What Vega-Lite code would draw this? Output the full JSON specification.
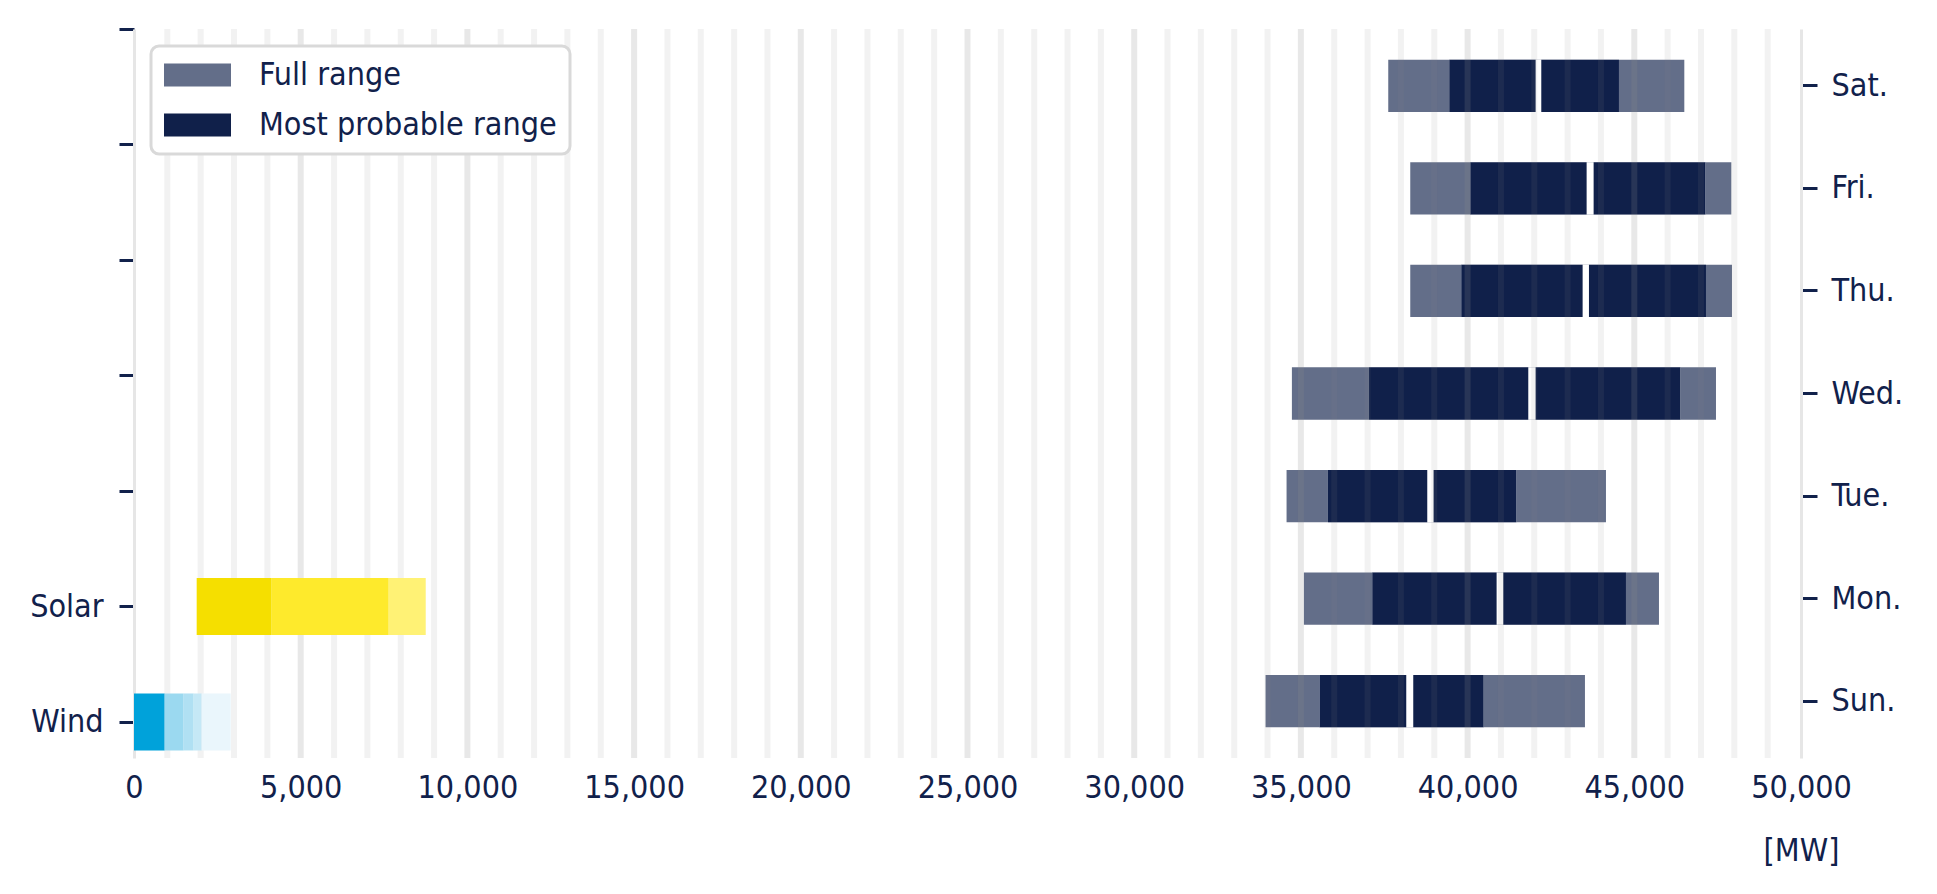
{
  "$schema": "https://vega.github.io/schema/vega-lite/v6.json",
  "description": "Weekly load ranges with wind and solar infeed ranges",
  "width": 1667,
  "height": 729,
  "autosize": {"type": "none"},
  "padding": {"left": 134, "top": 29, "right": 136, "bottom": 136},
  "background": "#ffffff",
  "config": {
    "view": {"stroke": null},
    "font": "DejaVu Sans Condensed, Liberation Sans Narrow, DejaVu Sans",
    "axis": {
      "labelColor": "#11214B",
      "labelFontSize": 32,
      "titleColor": "#11214B",
      "titleFontSize": 32,
      "titleFontWeight": "normal",
      "tickColor": "#11214B",
      "tickWidth": 3,
      "domainColor": "#E6E6E6",
      "domainWidth": 3,
      "grid": false
    }
  },
  "datasets": {
    "days": [
      {"day": "Sun.", "range": "Full range", "lo": 33940, "hi": 43520},
      {"day": "Mon.", "range": "Full range", "lo": 35090, "hi": 45740},
      {"day": "Tue.", "range": "Full range", "lo": 34570, "hi": 44150},
      {"day": "Wed.", "range": "Full range", "lo": 34730, "hi": 47450},
      {"day": "Thu.", "range": "Full range", "lo": 38280, "hi": 47930},
      {"day": "Fri.", "range": "Full range", "lo": 38280, "hi": 47910},
      {"day": "Sat.", "range": "Full range", "lo": 37620, "hi": 46500},
      {"day": "Sun.", "range": "Most probable range", "lo": 35560, "hi": 38160},
      {"day": "Sun.", "range": "Most probable range", "lo": 38370, "hi": 40480},
      {"day": "Mon.", "range": "Most probable range", "lo": 37140, "hi": 40870},
      {"day": "Mon.", "range": "Most probable range", "lo": 41070, "hi": 44750},
      {"day": "Tue.", "range": "Most probable range", "lo": 35810, "hi": 38790},
      {"day": "Tue.", "range": "Most probable range", "lo": 38980, "hi": 41460},
      {"day": "Wed.", "range": "Most probable range", "lo": 37040, "hi": 41820},
      {"day": "Wed.", "range": "Most probable range", "lo": 42040, "hi": 46380},
      {"day": "Thu.", "range": "Most probable range", "lo": 39810, "hi": 43450},
      {"day": "Thu.", "range": "Most probable range", "lo": 43640, "hi": 47150},
      {"day": "Fri.", "range": "Most probable range", "lo": 40080, "hi": 43570},
      {"day": "Fri.", "range": "Most probable range", "lo": 43780, "hi": 47130},
      {"day": "Sat.", "range": "Most probable range", "lo": 39450, "hi": 42040},
      {"day": "Sat.", "range": "Most probable range", "lo": 42210, "hi": 44540}
    ],
    "renewables": [
      {"source": "Wind", "slot": 0, "tier": "Wind 1", "lo": 0, "hi": 920},
      {"source": "Wind", "slot": 0, "tier": "Wind 2", "lo": 920, "hi": 1490},
      {"source": "Wind", "slot": 0, "tier": "Wind 3", "lo": 1490, "hi": 1790},
      {"source": "Wind", "slot": 0, "tier": "Wind 4", "lo": 1790, "hi": 2030},
      {"source": "Wind", "slot": 0, "tier": "Wind 5", "lo": 2030, "hi": 2900},
      {"source": "Solar", "slot": 1, "tier": "Solar 1", "lo": 1880, "hi": 4130},
      {"source": "Solar", "slot": 1, "tier": "Solar 2", "lo": 4130, "hi": 7640},
      {"source": "Solar", "slot": 1, "tier": "Solar 3", "lo": 7640, "hi": 8750}
    ],
    "grid": [
      {"mw": 1000}, {"mw": 2000}, {"mw": 3000}, {"mw": 4000}, {"mw": 5000},
      {"mw": 6000}, {"mw": 7000}, {"mw": 8000}, {"mw": 9000}, {"mw": 10000},
      {"mw": 11000}, {"mw": 12000}, {"mw": 13000}, {"mw": 14000}, {"mw": 15000},
      {"mw": 16000}, {"mw": 17000}, {"mw": 18000}, {"mw": 19000}, {"mw": 20000},
      {"mw": 21000}, {"mw": 22000}, {"mw": 23000}, {"mw": 24000}, {"mw": 25000},
      {"mw": 26000}, {"mw": 27000}, {"mw": 28000}, {"mw": 29000}, {"mw": 30000},
      {"mw": 31000}, {"mw": 32000}, {"mw": 33000}, {"mw": 34000}, {"mw": 35000},
      {"mw": 36000}, {"mw": 37000}, {"mw": 38000}, {"mw": 39000}, {"mw": 40000},
      {"mw": 41000}, {"mw": 42000}, {"mw": 43000}, {"mw": 44000}, {"mw": 45000},
      {"mw": 46000}, {"mw": 47000}, {"mw": 48000}, {"mw": 49000}
    ]
  },
  "layer": [
    {
      "data": {"name": "days"},
      "encoding": {
        "y": {
          "field": "day",
          "type": "nominal",
          "sort": ["Sat.", "Fri.", "Thu.", "Wed.", "Tue.", "Mon.", "Sun."],
          "scale": {"paddingInner": 0.49, "paddingOuter": 0.3},
          "axis": {
            "orient": "right",
            "title": null,
            "tickSize": 16,
            "labelPadding": 14
          }
        },
        "x": {
          "field": "lo",
          "type": "quantitative",
          "title": "[MW]",
          "scale": {"domain": [0, 50000], "nice": false, "zero": false},
          "axis": {
            "values": [0, 5000, 10000, 15000, 20000, 25000, 30000, 35000, 40000, 45000, 50000],
            "format": ",d",
            "ticks": false,
            "domain": false,
            "grid": false,
            "labelFlush": false,
            "labelPadding": 14,
            "titleX": 1667,
            "titleY": 102,
            "titleAlign": "center",
            "titleBaseline": "alphabetic"
          }
        },
        "x2": {"field": "hi"}
      },
      "layer": [
        {
          "transform": [{"filter": "datum.range === 'Full range'"}],
          "mark": {"type": "bar", "orient": "horizontal"},
          "encoding": {
            "color": {
              "field": "range",
              "type": "nominal",
              "scale": {
                "domain": ["Full range", "Most probable range"],
                "range": ["#636E89", "#10204A"]
              },
              "legend": {
                "orient": "none",
                "legendX": 17,
                "legendY": 17,
                "title": null,
                "symbolType": "M-1,-0.343H1V0.343H-1Z",
                "symbolSize": 4489,
                "symbolStrokeWidth": 0,
                "clipHeight": 32,
                "labelFontSize": 32,
                "labelColor": "#11214B",
                "labelOffset": 28,
                "labelLimit": 0,
                "padding": 13,
                "rowPadding": 18,
                "strokeColor": "#D9D9D9",
                "cornerRadius": 8,
                "fillColor": "#FFFFFF",
                "encode": {"legend": {"update": {"strokeWidth": {"value": 3}}}}
              }
            }
          }
        },
        {
          "transform": [
            {"filter": "datum.range === 'Most probable range'"},
            {"aggregate": [{"op": "min", "field": "lo", "as": "lo"}, {"op": "max", "field": "hi", "as": "hi"}], "groupby": ["day"]}
          ],
          "mark": {"type": "bar", "orient": "horizontal", "color": "#FFFFFF"},
          "encoding": {}
        },
        {
          "transform": [{"filter": "datum.range === 'Most probable range'"}],
          "mark": {"type": "bar", "orient": "horizontal"},
          "encoding": {
            "color": {"field": "range", "type": "nominal"}
          }
        }
      ]
    },
    {
      "data": {"name": "grid"},
      "mark": {"type": "rule", "strokeWidth": 6, "color": "#8A8A8A"},
      "encoding": {
        "x": {"field": "mw", "type": "quantitative", "title": "[MW]"},
        "strokeOpacity": {
          "condition": {"test": "datum.mw % 5000 === 0", "value": 0.2},
          "value": 0.11
        }
      }
    },
    {
      "data": {"name": "renewables"},
      "mark": {"type": "bar", "orient": "horizontal", "size": 57},
      "encoding": {
        "y": {
          "field": "slot",
          "type": "quantitative",
          "scale": {"domain": [-0.312, 6], "nice": false, "zero": false, "padding": 0},
          "axis": {
            "orient": "left",
            "title": null,
            "values": [0, 1, 2, 3, 4, 5, 6],
            "labelExpr": "datum.value === 0 ? 'Wind' : datum.value === 1 ? 'Solar' : ''",
            "tickSize": 15,
            "labelPadding": 16
          }
        },
        "x": {"field": "lo", "type": "quantitative", "title": "[MW]"},
        "x2": {"field": "hi"},
        "color": {
          "field": "tier",
          "type": "nominal",
          "scale": {
            "domain": ["Wind 1", "Wind 2", "Wind 3", "Wind 4", "Wind 5", "Solar 1", "Solar 2", "Solar 3"],
            "range": ["#00A2DA", "#9BD9F0", "#B0E0F3", "#C5E8F6", "#EAF6FC", "#F5DF00", "#FEEA2C", "#FFF275"]
          },
          "legend": null
        }
      }
    }
  ],
  "resolve": {"scale": {"y": "independent", "color": "independent"}}
}
